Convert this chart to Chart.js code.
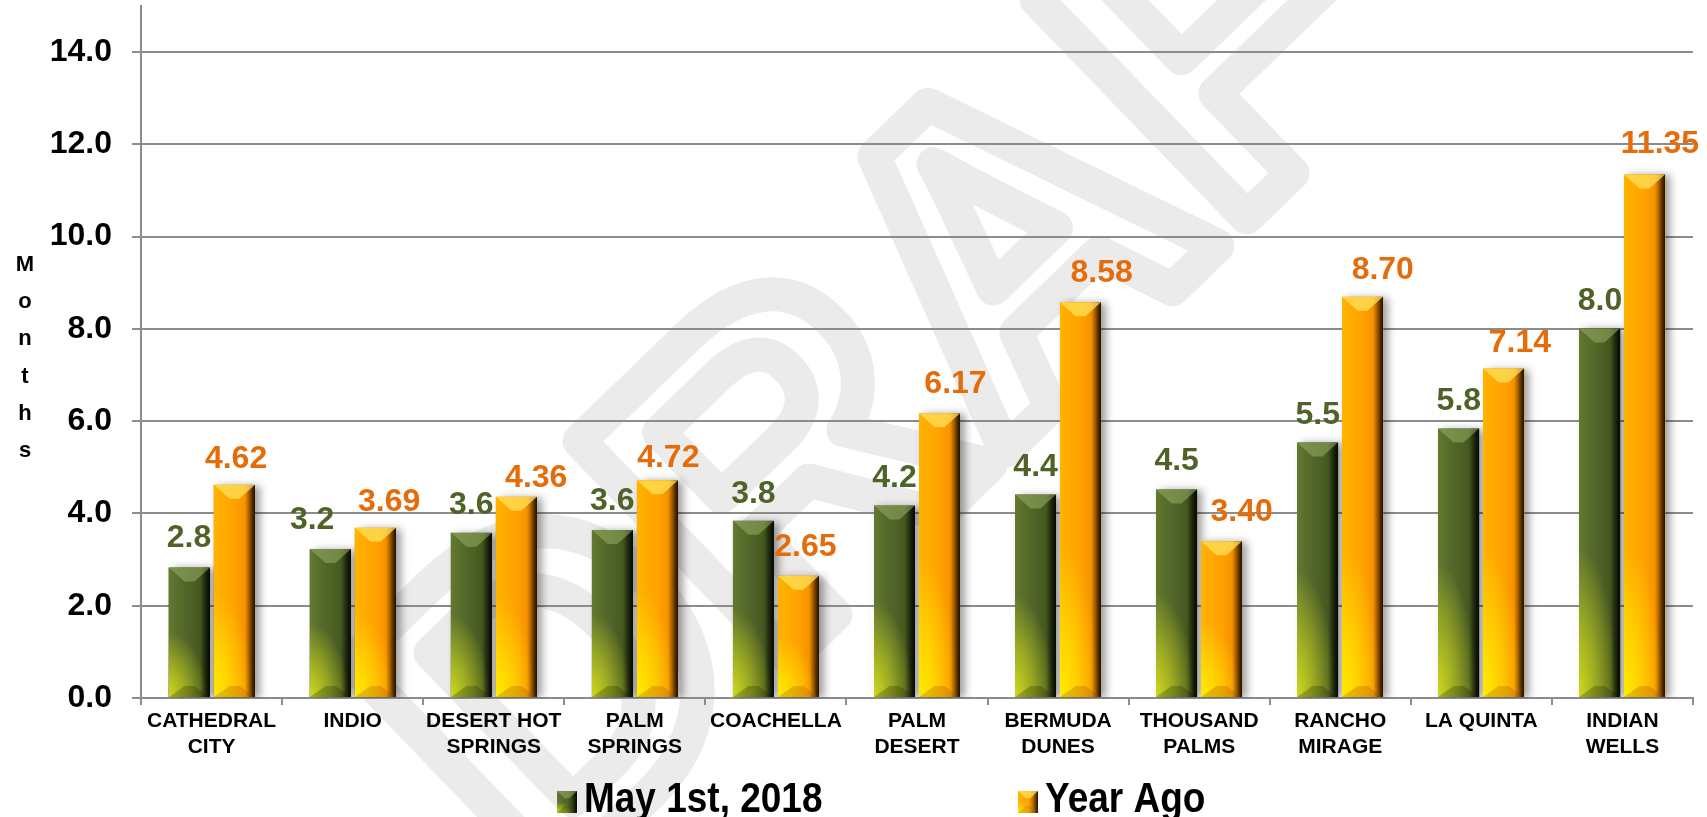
<!DOCTYPE html>
<html><head><meta charset="utf-8">
<script src="https://cdn.jsdelivr.net/npm/chart.js@4.4.1/dist/chart.umd.min.js"></script>
<style>html,body{margin:0;padding:0;background:#fff;overflow:hidden}#wrap{width:1707px;height:817px}</style>
</head><body><div id="wrap"><canvas id="c" width="1707" height="817"></canvas></div>
<script>
const categories = [['CATHEDRAL','CITY'],['INDIO'],['DESERT HOT','SPRINGS'],['PALM','SPRINGS'],['COACHELLA'],['PALM','DESERT'],['BERMUDA','DUNES'],['THOUSAND','PALMS'],['RANCHO','MIRAGE'],['LA QUINTA'],['INDIAN','WELLS']];
const seriesNames = ['May 1st, 2018', 'Year Ago'];
const may2018 = [2.83, 3.23, 3.58, 3.64, 3.84, 4.17, 4.41, 4.52, 5.54, 5.84, 8.01];
const yearAgo = [4.62, 3.69, 4.36, 4.72, 2.65, 6.17, 8.58, 3.40, 8.70, 7.14, 11.35];
const yTickValues = [0, 2, 4, 6, 8, 10, 12, 14];
const yAxisTitle = 'Months';
const watermarkText = 'DRAFT';

const FONT = '"Liberation Sans", Arial, Helvetica, sans-serif';
const GREEN = '#4F6228', ORANGE = '#E46C0A', GRID = '#8c8c8c';

// label style tweaks (offsets in px, not data)
const labelStyle = [
  { decimals: 1, color: GREEN, dx: [0,-18,0,0,0,0,0,0,0,0,0], gap: [20,20,19,20,18,19,19,19,18,19,18] },
  { decimals: 2, color: ORANGE, dx: [2,14,20,11,7,16,21,20,20,16,15], gap: [17,17,10,13,20,20,20,20,18,17,21] }
];
const palettes = [
  { h: [[0,'#64792f'],[0.18,'#5a6f2c'],[0.5,'#4f6228'],[0.74,'#46591f'],[0.87,'#2d3b14'],[1,'#0f1606']],
    glow: 'rgba(212,222,28,', top: 'rgba(150,175,100,0.55)', bottom: 'rgba(20,30,5,0.25)' },
  { h: [[0,'#ffb400'],[0.18,'#ffac00'],[0.5,'#ffa200'],[0.74,'#f79400'],[0.87,'#c46c00'],[1,'#4a2800']],
    glow: 'rgba(255,238,0,', top: 'rgba(255,225,90,0.75)', bottom: 'rgba(150,70,0,0.25)' }
];

function bevel(ctx, x0, x1, top, bottom, pal) {
  const w = x1 - x0, h = bottom - top;
  if (h <= 0) return;
  ctx.save();
  ctx.beginPath(); ctx.rect(x0, top, w, h); ctx.clip();
  let g = ctx.createLinearGradient(x0, 0, x1, 0);
  pal.h.forEach(s => g.addColorStop(s[0], s[1]));
  ctx.fillStyle = g; ctx.fillRect(x0, top, w, h);
  const R = Math.min(h * 0.5, 150);
  const sx = (w * 0.95) / R;
  ctx.save();
  ctx.translate(x0, bottom); ctx.scale(sx, 1);
  const rg = ctx.createRadialGradient(0, 0, 0, 0, 0, R);
  rg.addColorStop(0, pal.glow + '0.95)');
  rg.addColorStop(0.45, pal.glow + '0.55)');
  rg.addColorStop(1, pal.glow + '0)');
  ctx.fillStyle = rg; ctx.fillRect(-2, -R - 2, w / sx + 4, R + 4);
  ctx.restore();
  g = ctx.createLinearGradient(x1 - 9, 0, x1, 0);
  g.addColorStop(0, 'rgba(0,0,0,0)'); g.addColorStop(1, 'rgba(0,0,0,0.55)');
  ctx.fillStyle = g; ctx.fillRect(x1 - 9, top, 9, h);
  const d = Math.min(14, h / 3), ins = w * 0.38;
  ctx.fillStyle = pal.top;
  ctx.beginPath(); ctx.moveTo(x0, top); ctx.lineTo(x1, top); ctx.lineTo(x1 - ins, top + d); ctx.lineTo(x0 + ins, top + d); ctx.closePath(); ctx.fill();
  const d2 = Math.min(11, h / 3);
  ctx.fillStyle = pal.bottom;
  ctx.beginPath(); ctx.moveTo(x0, bottom); ctx.lineTo(x1, bottom); ctx.lineTo(x1 - ins, bottom - d2); ctx.lineTo(x0 + ins, bottom - d2); ctx.closePath(); ctx.fill();
  ctx.restore();
}

const shadowPlugin = {
  id: 'shadow',
  beforeDatasetDraw(chart) {
    const ctx = chart.ctx; ctx.save();
    ctx.shadowColor = 'rgba(0,0,0,0.38)'; ctx.shadowBlur = 8; ctx.shadowOffsetX = 5; ctx.shadowOffsetY = 1;
  },
  afterDatasetDraw(chart) { chart.ctx.restore(); }
};

const bevelPlugin = {
  id: 'bevel',
  afterDatasetsDraw(chart) {
    const ctx = chart.ctx;
    chart.data.datasets.forEach((ds, di) => {
      chart.getDatasetMeta(di).data.forEach(el => {
        const p = el.getProps(['x', 'y', 'base', 'width'], true);
        bevel(ctx, Math.round(p.x - p.width / 2), Math.round(p.x + p.width / 2), p.y, p.base, palettes[di]);
      });
    });
  }
};

const valueLabelPlugin = {
  id: 'valueLabels',
  afterDraw(chart) {
    const ctx = chart.ctx;
    ctx.save();
    ctx.font = 'bold 32px ' + FONT;
    ctx.textAlign = 'center'; ctx.textBaseline = 'alphabetic';
    chart.data.datasets.forEach((ds, di) => {
      const st = labelStyle[di];
      ctx.fillStyle = st.color;
      chart.getDatasetMeta(di).data.forEach((el, i) => {
        const p = el.getProps(['x', 'y'], true);
        ctx.fillText(ds.data[i].toFixed(st.decimals), p.x + st.dx[i], p.y - st.gap[i]);
      });
    });
    ctx.restore();
  }
};

const yTitlePlugin = {
  id: 'yTitle',
  afterDraw(chart) {
    const ctx = chart.ctx;
    ctx.save();
    ctx.font = 'bold 22px ' + FONT; ctx.fillStyle = '#000';
    ctx.textAlign = 'center'; ctx.textBaseline = 'alphabetic';
    const letters = yAxisTitle.split('');
    const step = 37.2;
    letters.forEach((ch, i) => ctx.fillText(ch, 25, 271 + i * step));
    ctx.restore();
  }
};

const legendPlugin = {
  id: 'customLegend',
  afterDraw(chart) {
    const ctx = chart.ctx;
    const items = [{ x: 557, pal: palettes[0] }, { x: 1018, pal: palettes[1] }];
    const base = 812;
    ctx.save();
    items.forEach((it, i) => {
      const bw = 20, bh = 22, bx = it.x, by = 791;
      bevel(ctx, bx, bx + bw, by, by + bh, it.pal);
      ctx.save();
      ctx.translate(bx + bw + 7, base);
      ctx.scale(0.86, 1);
      ctx.font = 'bold 43px ' + FONT; ctx.fillStyle = '#000';
      ctx.textAlign = 'left'; ctx.textBaseline = 'alphabetic';
      ctx.fillText(chart.data.datasets[i].label, 0, 0);
      ctx.restore();
    });
    ctx.restore();
  }
};

const watermarkPlugin = {
  id: 'watermark',
  beforeDraw(chart) {
    const ctx = chart.ctx;
    ctx.save();
    ctx.fillStyle = '#fff'; ctx.fillRect(0, 0, chart.width, chart.height);
    ctx.translate(540, 900);
    ctx.rotate(-44 * Math.PI / 180);
    ctx.font = 'bold 440px ' + FONT;
    ctx.lineWidth = 34; ctx.lineJoin = 'round'; ctx.lineCap = 'round';
    ctx.strokeStyle = '#ebebeb';
    ctx.textAlign = 'left'; ctx.textBaseline = 'alphabetic';
    ctx.strokeText(watermarkText, 0, 0);
    ctx.restore();
  }
};

new Chart(document.getElementById('c'), {
  type: 'bar',
  data: {
    labels: categories,
    datasets: [
      { label: seriesNames[0], data: may2018, backgroundColor: '#4F6228', categoryPercentage: 0.638, barPercentage: 0.91 },
      { label: seriesNames[1], data: yearAgo, backgroundColor: '#FFA200', categoryPercentage: 0.638, barPercentage: 0.91 }
    ]
  },
  options: {
    responsive: false, animation: false, devicePixelRatio: 1,
    layout: { padding: { top: 6, right: 14, left: 0, bottom: 0 } },
    plugins: { legend: { display: false }, tooltip: { enabled: false } },
    scales: {
      x: {
        grid: { display: true, drawOnChartArea: false, drawTicks: true, tickLength: 7, color: GRID, lineWidth: 2, offset: true },
        border: { display: true, color: GRID, width: 2 },
        ticks: { font: { family: FONT, weight: 'bold', size: 21, lineHeight: 1.2 }, color: '#000', padding: 4, maxRotation: 0, autoSkip: false },
        afterFit(s) { s.height = 119; s.paddingLeft = 0; s.paddingRight = 0; }
      },
      y: {
        min: 0, max: 15,
        afterBuildTicks(s) { s.ticks = yTickValues.map(v => ({ value: v })); },
        grid: { color: GRID, lineWidth: 2, tickLength: 9, drawTicks: true },
        border: { display: true, color: GRID, width: 2 },
        ticks: { font: { family: FONT, weight: 'bold', size: 32 }, color: '#000', padding: 20, callback: v => v.toFixed(1) },
        afterFit(s) { s.width = 141; s.paddingTop = 0; s.paddingBottom = 0; }
      }
    }
  },
  plugins: [watermarkPlugin, shadowPlugin, bevelPlugin, valueLabelPlugin, yTitlePlugin, legendPlugin]
});
</script></body></html>
